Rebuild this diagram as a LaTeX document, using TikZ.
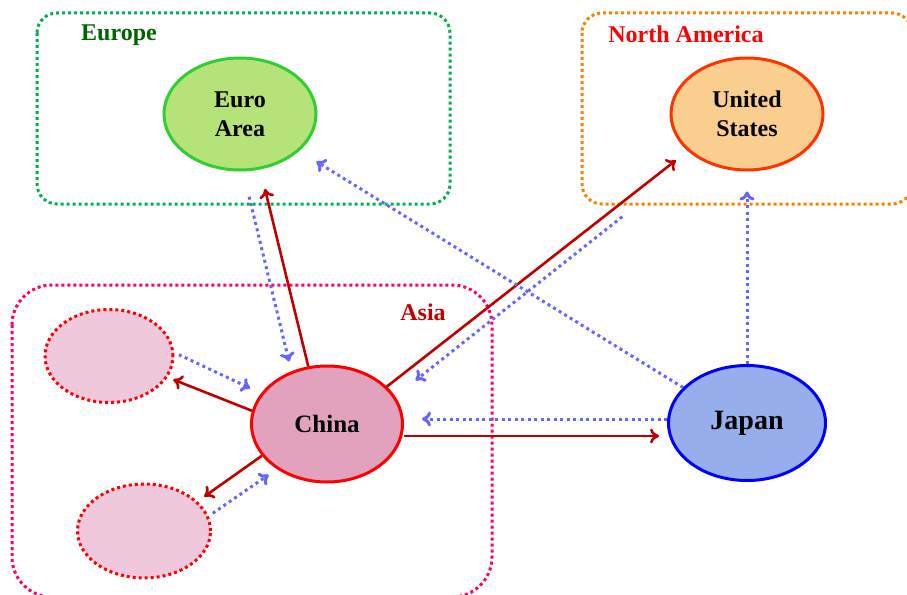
\documentclass[tikz,border=0pt]{standalone}
\usepackage{fontspec}
\setmainfont{Liberation Serif}
\usetikzlibrary{shapes.geometric,arrows.meta,positioning,calc}
\definecolor{europegreen}{HTML}{00B050}
\definecolor{europedark}{HTML}{006400}
\definecolor{naorange}{HTML}{FF7F00}
\definecolor{asiapink}{HTML}{FF0066}
\definecolor{asiared}{HTML}{C00000}
\definecolor{flowred}{HTML}{C00000}
\definecolor{flowblue}{HTML}{6666FF}
\definecolor{eurofill}{HTML}{B6E27A}
\definecolor{euroline}{HTML}{33CC33}
\definecolor{usfill}{HTML}{FACE8E}
\definecolor{usline}{HTML}{FF3300}
\definecolor{chinafill}{HTML}{E2A2BE}
\definecolor{provfill}{HTML}{F0C8DC}
\definecolor{japanfill}{HTML}{97AEEC}

\begin{document}
\begin{tikzpicture}[
    x=1pt, y=-1pt,
    font=\bfseries\fontsize{24}{29}\selectfont,
    region/.style={line width=3pt, dash pattern=on 3pt off 3pt, rounded corners=20pt},
    country/.style={ellipse, line width=3pt, inner sep=0pt, minimum width=152pt, minimum height=112pt, align=center},
    province/.style={ellipse, draw=red, fill=provfill, line width=3pt, dash pattern=on 3pt off 3pt, inner sep=0pt},
    arrow/.style={line width=2.6pt, -{To[length=9pt,width=15pt]}},
    outflow/.style={arrow, draw=flowred},
    inflow/.style={arrow, draw=flowblue, line width=3pt, dash pattern=on 3pt off 3.5pt}
]
    \useasboundingbox (0,0) rectangle (907,594);

    % Regions
    \draw[region, europegreen] (37,13) rectangle (450,204);
    \node[text=europedark] (europelbl) at (119,35) {Europe};
    \draw[region, naorange] (582,13) rectangle (912,204);
    \node[text=red] (namlbl) at (686,34) {North America};
    \draw[region, asiapink, rounded corners=40pt] (12,285) rectangle (492,597);
    \node[text=asiared] (asialbl) at (423,312) {Asia};

    % Countries
    \node[country, draw=euroline, fill=eurofill] (euro) at (240,114) {Euro\\Area};
    \node[country, draw=usline, fill=usfill] (usa) at (747,114) {United\\States};
    \node[country, draw=red, fill=chinafill, minimum width=151pt, minimum height=116pt,
          font=\bfseries\fontsize{25}{29}\selectfont] (china) at (327,424) {China};
    \node[country, draw=blue, fill=japanfill, minimum width=157pt, minimum height=115pt,
          font=\bfseries\fontsize{28}{32}\selectfont] (japan) at (747,423) {Japan};
    \node[province, minimum width=128pt, minimum height=93pt] (prova) at (109,356) {};
    \node[province, minimum width=133pt, minimum height=94pt] (provb) at (144,531) {};

    % Flows out of China
    \draw[outflow, shorten >=20pt] (china.108) -- (euro.290);
    \draw[outflow, shorten >=15pt] (china.32) -- (usa.212);
    \draw[outflow, shorten >=8pt] ([yshift=-12pt]china.east) -- ([yshift=-12pt]china.east -| japan.west);
    \draw[outflow, shorten >=6pt] (china.170) -- (prova.340);
    \draw[outflow, shorten >=8pt] (china.206) -- (provb.29);

    % Flows into China and others
    \draw[inflow, shorten <=26pt, shorten >=10pt] (euro.273) -- (china.124);
    \draw[inflow, shorten >=20pt] (japan.151) -- (euro.328);
    \draw[inflow, shorten <=95pt, shorten >=26pt] (usa.221) -- (china.22);
    \draw[inflow, shorten >=18pt] ([yshift=4pt]japan.west) -- ([yshift=4pt]japan.west -| china.east);
    \draw[inflow, shorten >=20pt] (japan.north) -- (usa.south);
    \draw[inflow, shorten <=5pt, shorten >=12pt] (prova.3) -- (china.155);
    \draw[inflow, shorten <=5pt, shorten >=10pt] (provb.13) -- (china.222);

\end{tikzpicture}
\end{document}
